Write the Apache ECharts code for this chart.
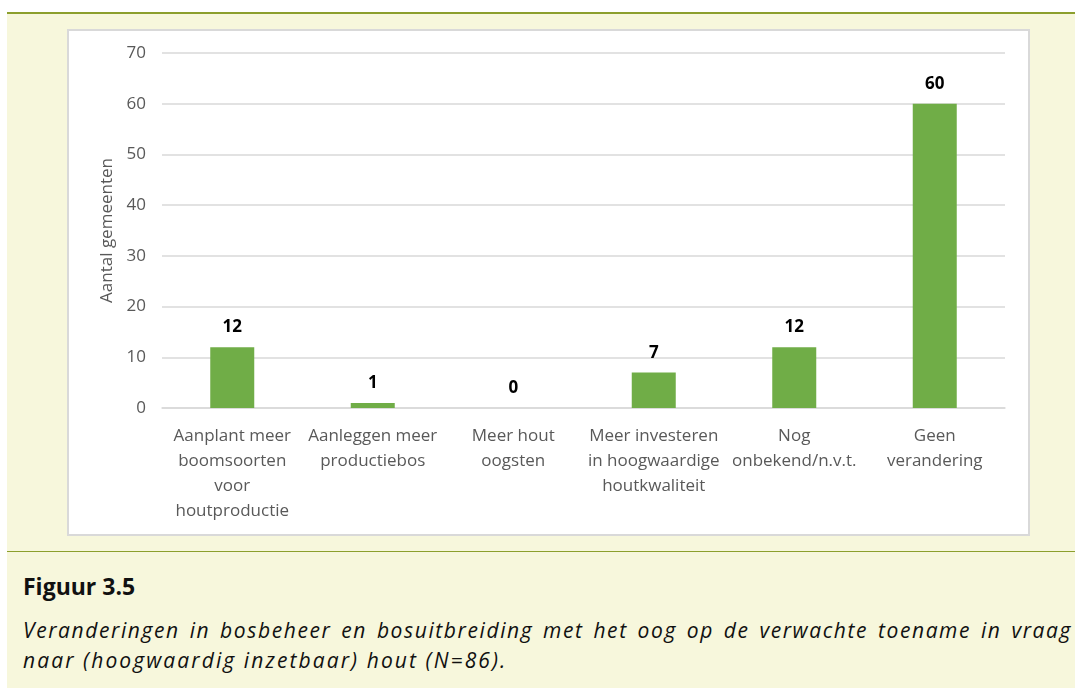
<!DOCTYPE html>
<html>
<head>
<meta charset="utf-8">
<script src="https://cdn.jsdelivr.net/npm/echarts@6/dist/echarts.min.js"></script>
<style>
  html, body { margin: 0; padding: 0; background: #fff; width: 1075px; height: 688px; overflow: hidden; }
  .panel { position: absolute; left: 7px; top: 12px; width: 1068px; height: 676px; background: #F7F7DC; border-top: 2px solid #8C9F2D; box-sizing: border-box; }
  .box { position: absolute; left: 67px; top: 29px; width: 963px; height: 507px; background: #fff; border: 2px solid #D9D9D9; box-sizing: border-box; }
  #chart { position: absolute; left: 0; top: 0; width: 959px; height: 503px; }
  .rule { position: absolute; left: 7px; top: 551px; width: 1068px; height: 0; border-top: 1.5px solid #8C9F2D; }
  .fig { position: absolute; left: 23px; top: 570px; font: bold 23px "Open Sans", sans-serif; color: #111; }
  .cap { position: absolute; left: 23px; width: 1049px; font: italic 21px/30px "Open Sans", sans-serif; letter-spacing: 1.6px; color: #111; white-space: nowrap; }
  .cap1 { top: 615px; text-align: justify; text-align-last: justify; }
  .cap2 { top: 645px; letter-spacing: 2.1px; }
</style>
</head>
<body>
<div class="panel"></div>
<div class="box"><div id="chart"></div></div>
<div class="rule"></div>
<div class="fig">Figuur 3.5</div>
<div class="cap cap1">Veranderingen in bosbeheer en bosuitbreiding met het oog op de verwachte toename in vraag</div>
<div class="cap cap2">naar (hoogwaardig inzetbaar) hout (N=86).</div>
<script>
// categorieën en aantallen
var categories = [
  'Aanplant meer\nboomsoorten\nvoor\nhoutproductie',
  'Aanleggen meer\nproductiebos',
  'Meer hout\noogsten',
  'Meer investeren\nin hoogwaardige\nhoutkwaliteit',
  'Nog\nonbekend/n.v.t.',
  'Geen\nverandering'
];
var values = [12, 1, 0, 7, 12, 60];
var yTicks = [0, 10, 20, 30, 40, 50, 60, 70];

var chart = echarts.init(document.getElementById('chart'), null, { renderer: 'canvas' });
var font = '"Open Sans", sans-serif';

chart.setOption({
  animation: false,
  textStyle: { fontFamily: font },
  grid: { left: 93, right: 23, top: 22, bottom: 126 },
  xAxis: {
    type: 'category',
    data: categories,
    axisLine: { lineStyle: { color: '#D9D9D9', width: 1.5 } },
    axisTick: { show: false },
    axisLabel: {
      interval: 0,
      color: '#595959',
      fontSize: 17,
      lineHeight: 25,
      margin: 16,
      fontFamily: font
    }
  },
  yAxis: {
    type: 'value',
    min: yTicks[0],
    max: yTicks[yTicks.length - 1],
    interval: 10,
    name: 'Aantal gemeenten',
    nameLocation: 'middle',
    nameGap: 46,
    nameTextStyle: { color: '#595959', fontSize: 17, fontFamily: font },
    axisLine: { show: false },
    axisTick: { show: false },
    axisLabel: { color: '#595959', fontSize: 17, margin: 16, fontFamily: font },
    splitLine: { lineStyle: { color: '#D9D9D9', width: 1.5 } }
  },
  series: [{
    type: 'bar',
    data: values,
    barWidth: 44,
    itemStyle: { color: '#70AD47' },
    label: {
      show: true,
      position: 'top',
      distance: 11,
      color: '#000',
      fontWeight: 'bold',
      fontSize: 17,
      fontFamily: font
    }
  }]
});
</script>
</body>
</html>
